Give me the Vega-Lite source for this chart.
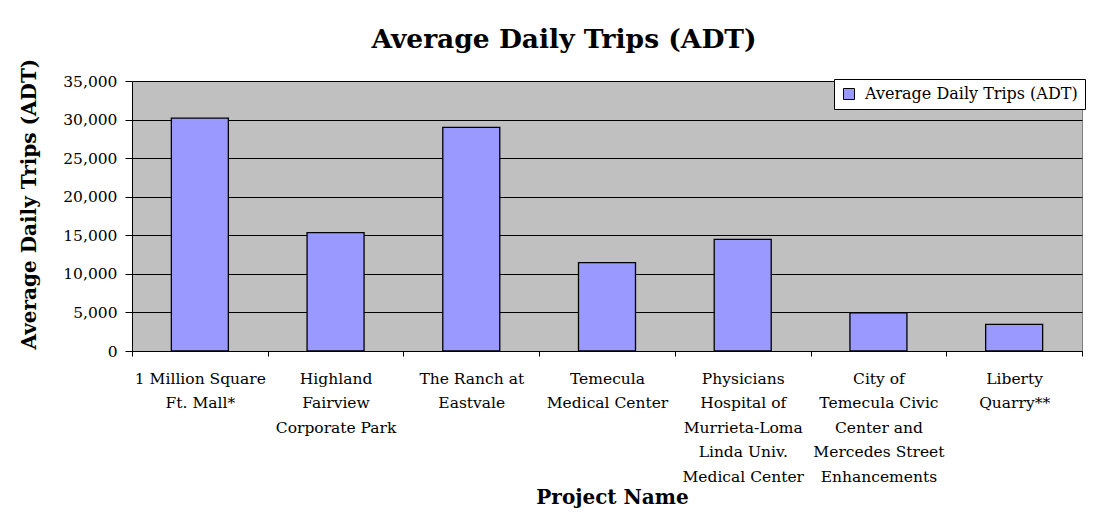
{
  "$schema": "https://vega.github.io/schema/vega-lite/v6.json",
  "width": 950,
  "height": 270,
  "autosize": {"type": "none"},
  "padding": {"left": 132, "top": 81, "right": 28, "bottom": 170},
  "background": "white",
  "title": {
    "text": "Average Daily Trips (ADT)",
    "fontSize": 26.5,
    "fontWeight": "bold",
    "color": "black",
    "anchor": "middle",
    "frame": "group",
    "dx": -43,
    "dy": 26,
    "offset": 10,
    "baseline": "alphabetic"
  },
  "data": {
    "values": [
      {"project": "1 Million Square Ft. Mall*", "adt": 30200, "series": "Average Daily Trips (ADT)"},
      {"project": "Highland Fairview Corporate Park", "adt": 15350, "series": "Average Daily Trips (ADT)"},
      {"project": "The Ranch at Eastvale", "adt": 29000, "series": "Average Daily Trips (ADT)"},
      {"project": "Temecula Medical Center", "adt": 11450, "series": "Average Daily Trips (ADT)"},
      {"project": "Physicians Hospital of Murrieta-Loma Linda Univ. Medical Center", "adt": 14480, "series": "Average Daily Trips (ADT)"},
      {"project": "City of Temecula Civic Center and Mercedes Street Enhancements", "adt": 4960, "series": "Average Daily Trips (ADT)"},
      {"project": "Liberty Quarry**", "adt": 3460, "series": "Average Daily Trips (ADT)"}
    ]
  },
  "mark": {"type": "bar", "stroke": "black", "strokeWidth": 1.3, "width": {"band": 0.42}},
  "encoding": {
    "x": {
      "field": "project",
      "type": "nominal",
      "sort": null,
      "scale": {"paddingInner": 0, "paddingOuter": 0},
      "axis": {
        "title": "Project Name",
        "titleFontSize": 20,
        "titleFontWeight": "bold",
        "titleColor": "black",
        "titleX": 480,
        "titleY": 152,
        "titleAlign": "center",
        "titleBaseline": "alphabetic",
        "labelAngle": 0,
        "labelFontSize": 15.5,
        "labelLineHeight": 24.5,
        "labelBaseline": "top",
        "labelAlign": "center",
        "labelPadding": 15,
        "labelColor": "black",
        "labelBound": false,
        "labelOverlap": false,
        "labelLimit": 0,
        "tickSize": 5,
        "tickColor": "black",
        "tickBand": "extent",
        "domainColor": "black",
        "grid": false,
        "labelExpr": "datum.value == '1 Million Square Ft. Mall*' ? ['1 Million Square', 'Ft. Mall*'] : datum.value == 'Highland Fairview Corporate Park' ? ['Highland', 'Fairview', 'Corporate Park'] : datum.value == 'The Ranch at Eastvale' ? ['The Ranch at', 'Eastvale'] : datum.value == 'Temecula Medical Center' ? ['Temecula', 'Medical Center'] : datum.value == 'Physicians Hospital of Murrieta-Loma Linda Univ. Medical Center' ? ['Physicians', 'Hospital of', 'Murrieta-Loma', 'Linda Univ.', 'Medical Center'] : datum.value == 'City of Temecula Civic Center and Mercedes Street Enhancements' ? ['City of', 'Temecula Civic', 'Center and', 'Mercedes Street', 'Enhancements'] : datum.value == 'Liberty Quarry**' ? ['Liberty', 'Quarry**'] : datum.label"
      }
    },
    "y": {
      "field": "adt",
      "type": "quantitative",
      "scale": {"domain": [0, 35000], "nice": false},
      "axis": {
        "title": "Average Daily Trips (ADT)",
        "titleFontSize": 20,
        "titleFontWeight": "bold",
        "titleColor": "black",
        "titleAngle": -90,
        "titleAlign": "left",
        "titleBaseline": "middle",
        "titleX": -103,
        "titleY": 268,
        "values": [0, 5000, 10000, 15000, 20000, 25000, 30000, 35000],
        "format": ",d",
        "labelFontSize": 15.5,
        "labelColor": "black",
        "labelPadding": 8,
        "tickSize": 7,
        "tickColor": "black",
        "domainColor": "black",
        "grid": true,
        "gridColor": "black",
        "gridWidth": 1,
        "gridOpacity": 1
      }
    },
    "color": {
      "field": "series",
      "type": "nominal",
      "scale": {"range": ["#9999FF"]},
      "legend": {
        "title": null,
        "orient": "none",
        "legendX": 702,
        "legendY": -2,
        "fillColor": "white",
        "strokeColor": "black",
        "padding": 7,
        "symbolType": "square",
        "symbolSize": 121,
        "symbolStrokeColor": "black",
        "symbolStrokeWidth": 1,
        "symbolOpacity": 1,
        "labelFontSize": 16,
        "labelColor": "black",
        "labelOffset": 8,
        "labelLimit": 0
      }
    }
  },
  "config": {
    "font": "DejaVu Serif",
    "view": {"fill": "#C0C0C0", "stroke": "#808080", "strokeWidth": 1}
  }
}
